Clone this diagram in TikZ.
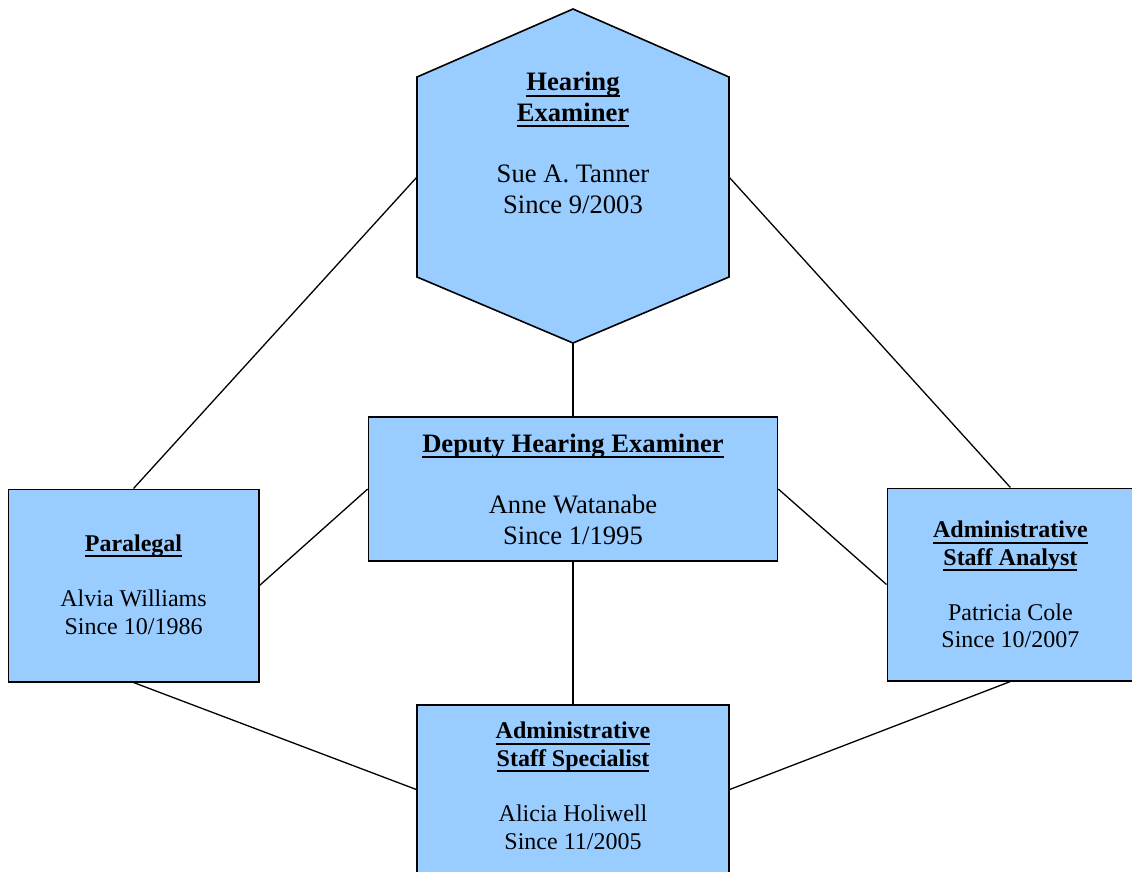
\documentclass[tikz,border=0pt]{standalone}
\usepackage{fontspec}
\setmainfont{Liberation Serif}
\usepackage{xcolor}
\definecolor{boxblue}{RGB}{153,204,255}
\usepackage{tikz}
\usetikzlibrary{positioning,calc}
\newcommand{\bigtext}{\fontsize{26.6}{30.7}\selectfont}
\newcommand{\smalltext}{\fontsize{24}{27.6}\selectfont}
\newcommand{\titleline}[1]{\setbox0=\hbox{\bfseries #1}\rlap{\rule[-6pt]{\wd0}{2pt}}\box0}
\tikzstyle{boxline} = [
    draw, line width=1.6pt, fill=boxblue,
]
\tikzstyle{staff} = [
    boxline, rectangle, inner sep=0pt, align=center,
]
\tikzstyle{link} = [line width=1.3pt]

\begin{document}
\begin{tikzpicture}[x=1pt,y=-1pt]
    \useasboundingbox (0,0) rectangle (1132,871);
    % Hearing Examiner
    \draw[boxline] (573,9) -- (729,77) -- (729,277) -- (573,343) -- (417,277) -- (417,77) -- cycle;
    \coordinate (hexLeft) at (417,177);
    \coordinate (hexRight) at (729,177);
    \coordinate (hexBottom) at (573,343);
    \node (examiner) at (573,143) [align=center, font=\bigtext]
        {\titleline{Hearing}\\\titleline{Examiner}\\[30.7pt]Sue A. Tanner\\Since 9/2003};

    \node (deputy) at (573,489) [staff, minimum width=409pt, minimum height=144pt, font=\bigtext]
        {\titleline{Deputy Hearing Examiner}\\[30.7pt]Anne Watanabe\\Since 1/1995};
    \node (paralegal) at (133.5,585.5) [staff, minimum width=250.4pt, minimum height=192.4pt, font=\smalltext]
        {\titleline{Paralegal}\\[27.6pt]Alvia Williams\\Since 10/1986\rule[-2pt]{0pt}{2pt}};
    \node (analyst) at (1010.4,584.5) [staff, minimum width=246.2pt, minimum height=192.4pt, font=\smalltext]
        {\titleline{Administrative}\\\titleline{Staff Analyst}\\[27.6pt]Patricia Cole\\Since 10/2007};
    \node (specialist) at (573,789.5) [staff, minimum width=311.7pt, minimum height=169pt, font=\smalltext]
        {\titleline{Administrative}\\\titleline{Staff Specialist}\\[27.6pt]Alicia Holiwell\\Since 11/2005\rule[-8pt]{0pt}{8pt}};

    \draw[link] (hexLeft) -- (paralegal.north);
    \draw[link] (hexRight) -- (analyst.north);
    \draw[link] (hexBottom) -- (deputy.north);
    \draw[link] (deputy.west) -- (paralegal.east);
    \draw[link] (deputy.east) -- (analyst.west);
    \draw[link] (deputy.south) -- (specialist.north);
    \draw[link] (paralegal.south) -- (specialist.west);
    \draw[link] (analyst.south) -- (specialist.east);
\end{tikzpicture}
\end{document}
